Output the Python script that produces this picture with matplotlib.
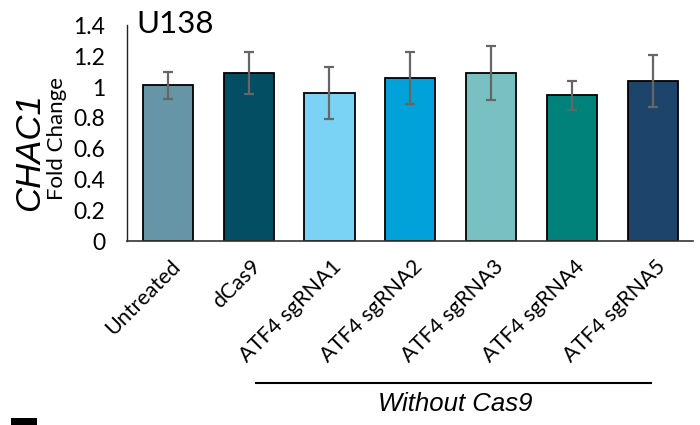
import matplotlib
matplotlib.use("Agg")
import matplotlib.pyplot as plt
import matplotlib.transforms as mtransforms
from matplotlib.patches import Rectangle
import numpy as np

# CHAC1 fold change in U138 cells
categories = ["Untreated", "dCas9", "ATF4 sgRNA1", "ATF4 sgRNA2",
              "ATF4 sgRNA3", "ATF4 sgRNA4", "ATF4 sgRNA5"]
fold_change = [1.01, 1.09, 0.96, 1.06, 1.09, 0.945, 1.037]
fold_err = [0.09, 0.135, 0.17, 0.17, 0.175, 0.097, 0.17]
bar_colors = ["#6795A8", "#034E62", "#7AD2F5", "#00A2D9",
              "#78C0C2", "#00827A", "#1D456B"]
yticks = [0, 0.2, 0.4, 0.6, 0.8, 1.0, 1.2, 1.4]
ytick_labels = ["0", "0.2", "0.4", "0.6", "0.8", "1", "1.2", "1.4"]

plt.rcParams["font.family"] = ["Lato", "DejaVu Sans"]

fig = plt.figure(figsize=(7.0, 4.25), dpi=100)
ax = fig.add_axes([0.1819, 0.4329, 0.8086, 0.5073])

x = np.arange(len(categories))
ax.bar(x, fold_change, width=0.62, color=bar_colors,
       edgecolor="black", linewidth=1.3, zorder=2)
ax.errorbar(x, fold_change, yerr=fold_err, fmt="none",
            ecolor="#666666", elinewidth=1.6, capsize=3.8,
            capthick=1.6, zorder=3)

ax.set_xlim(-0.5, 6.5)
ax.set_ylim(0, 1.4)
ax.set_yticks(yticks)
ax.set_yticklabels(ytick_labels, fontsize=16.5)
ax.set_xticks(x)
ax.set_xticklabels(categories, fontsize=15.5, rotation=45, ha="right",
                   va="top", rotation_mode="anchor")
ax.tick_params(axis="y", length=0, pad=16)
ax.tick_params(axis="x", length=0, pad=11)

shift = mtransforms.ScaledTranslation(1.5 / 72, 0, fig.dpi_scale_trans)
for lbl in ax.get_xticklabels():
    lbl.set_transform(lbl.get_transform() + shift)

for side in ("top", "right"):
    ax.spines[side].set_visible(False)
ax.spines["left"].set_linewidth(1.0)
ax.spines["left"].set_color("#222222")
ax.spines["bottom"].set_linewidth(1.2)
ax.spines["bottom"].set_color("#333333")

# Cell line title
fig.text(0.1943, 0.923, "U138", fontsize=22.5, ha="left", va="baseline")

# Two-part y-axis label
fig.text(29.5 / 700, 0.643, "CHAC1", fontsize=25, rotation=90,
         ha="center", va="center", style="italic",
         family=["Liberation Sans", "DejaVu Sans"])
fig.text(57 / 700, 0.675, "Fold Change", fontsize=16, rotation=90,
         ha="center", va="center")

# Group bracket for the sgRNA samples
fig.add_artist(plt.Line2D([256 / 700, 651 / 700], [1 - 382.7 / 425] * 2,
                          color="black", linewidth=1.5))
fig.text(455.6 / 700, 1 - 404 / 425, "Without Cas9", fontsize=18.5,
         style="italic", ha="center", va="center",
         family=["Liberation Sans", "DejaVu Sans"])

# Top stroke of the next panel's letter at the bottom edge
fig.add_artist(Rectangle((10.7 / 700, 0), 26 / 700, 7.3 / 425,
                         transform=fig.transFigure, facecolor="black",
                         edgecolor="none"))

fig.savefig("out.png", dpi=100)
